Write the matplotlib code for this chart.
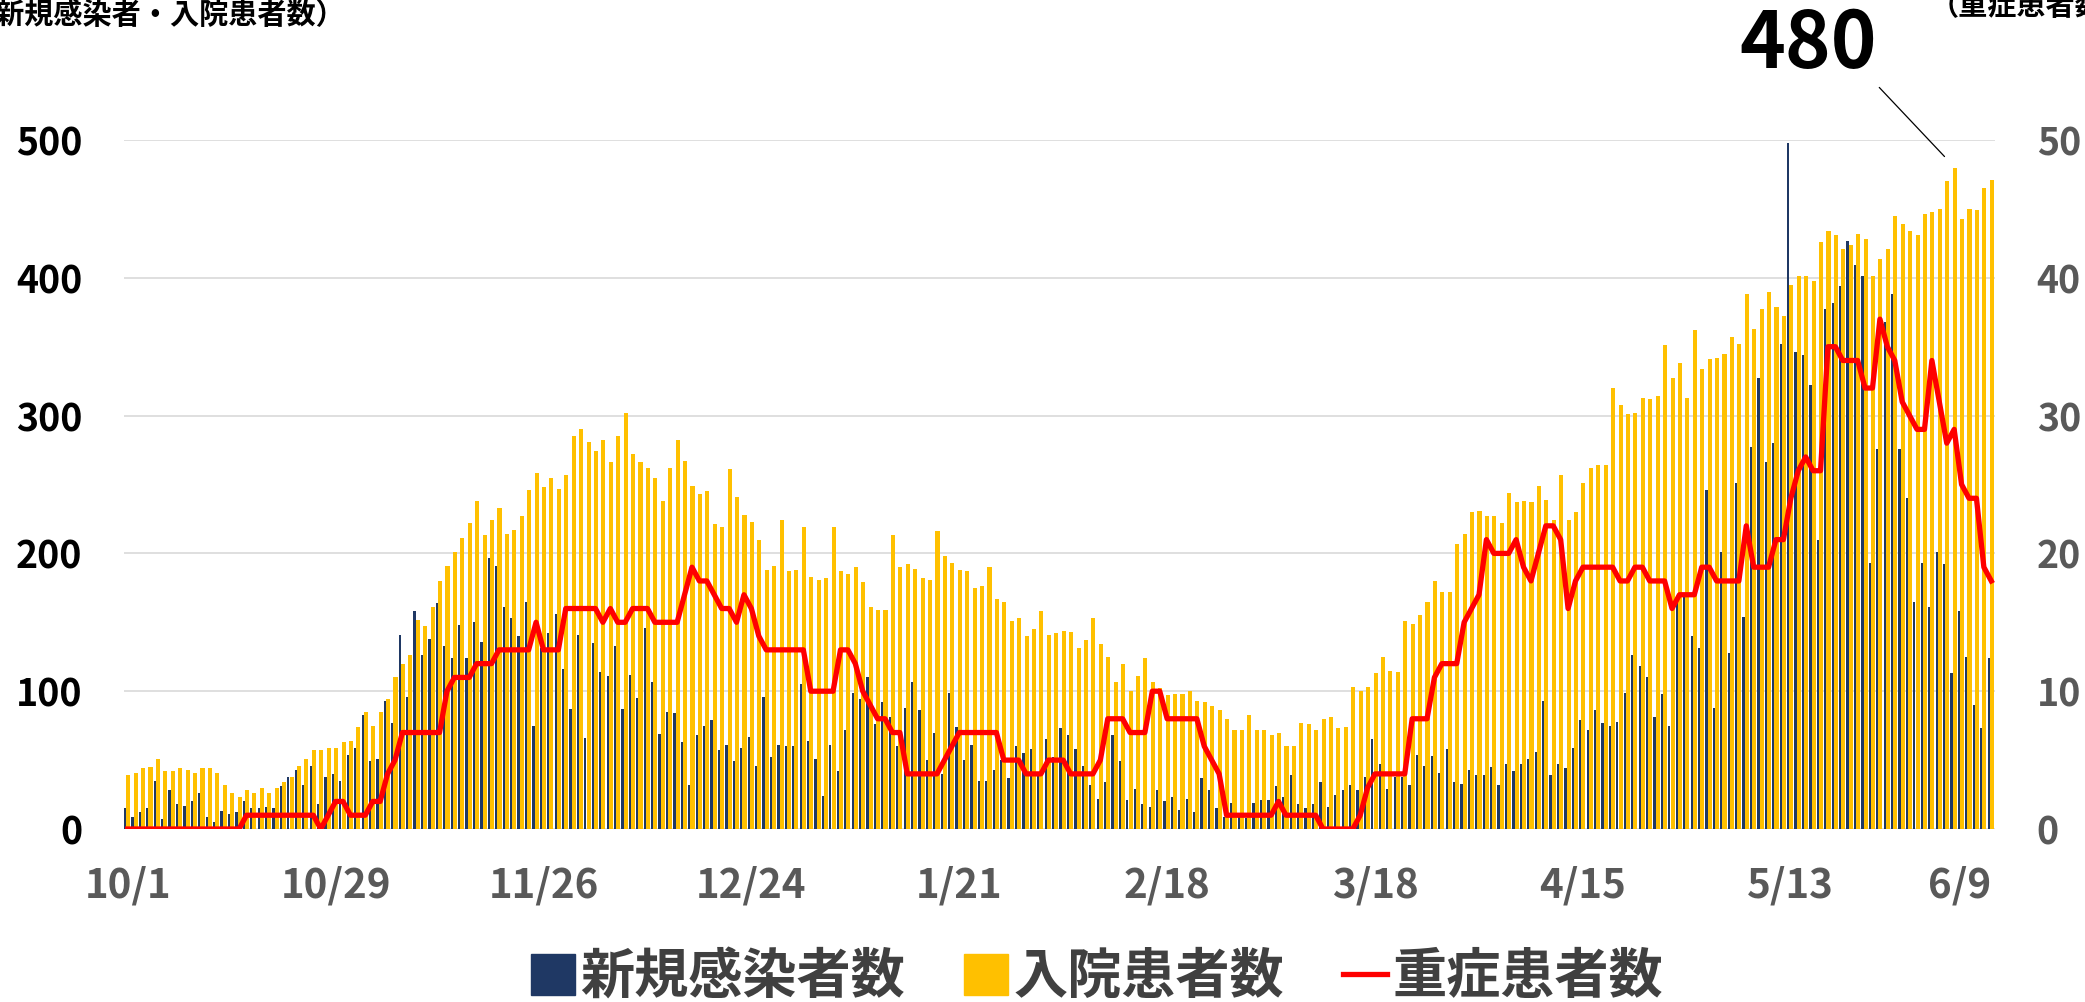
import numpy as np
import pandas as pd
import matplotlib
matplotlib.use('Agg')
import matplotlib.pyplot as plt
from matplotlib.patches import Patch
from matplotlib.lines import Line2D

# daily data 2020/10/1 - 2021/6/9
dates = pd.date_range('2020-10-01', '2021-06-09', freq='D')
tick_labels = ['10/1', '10/29', '11/26', '12/24', '1/21', '2/18', '3/18', '4/15', '5/13', '6/9']

new_cases = [
    15, 9, 12, 15, 35, 7, 28, 18, 17, 20, 26, 9, 5, 13, 11, 12, 20, 15, 15, 16, 15, 31,
    38, 43, 32, 46, 18, 38, 40, 35, 54, 59, 83, 49, 51, 93, 77, 141, 96, 158, 126, 138, 164, 133, 124,
    148, 124, 150, 136, 197, 191, 161, 153, 140, 165, 75, 131, 142, 156, 116, 87, 141, 66, 135, 114, 111, 133, 87,
    112, 95, 146, 107, 69, 85, 84, 63, 32, 68, 75, 79, 57, 61, 49, 59, 67, 46, 96, 52, 61, 60, 60,
    105, 64, 51, 24, 61, 42, 72, 99, 94, 110, 76, 92, 81, 60, 88, 107, 86, 50, 70, 40, 99, 74, 50,
    61, 35, 35, 43, 50, 37, 60, 55, 58, 41, 65, 52, 73, 68, 58, 46, 32, 22, 34, 68, 49, 21, 29,
    18, 16, 28, 20, 23, 14, 22, 12, 37, 28, 15, 9, 19, 9, 8, 19, 21, 21, 31, 23, 39, 18,
    15, 18, 34, 16, 25, 28, 32, 28, 38, 65, 47, 29, 38, 38, 32, 54, 46, 53, 41, 58, 34, 33, 43,
    39, 39, 45, 32, 47, 42, 47, 51, 56, 93, 39, 47, 44, 59, 79, 72, 86, 77, 75, 78, 99, 126, 118,
    110, 81, 98, 75, 164, 171, 140, 131, 246, 88, 201, 128, 251, 154, 277, 327, 266, 280, 352, 498, 346, 344, 322,
    210, 377, 382, 394, 427, 409, 401, 193, 276, 368, 388, 276, 240, 165, 193, 161, 201, 192, 113, 158, 125, 90, 73, 124,
]

hospitalized = [
    39, 41, 44, 45, 51, 42, 42, 44, 43, 41, 44, 44, 41, 32, 26, 23, 28, 26, 30, 26, 30, 34,
    38, 46, 51, 57, 57, 59, 59, 63, 64, 74, 85, 75, 85, 94, 110, 120, 126, 152, 147, 161, 180, 191, 201,
    211, 222, 238, 213, 224, 233, 214, 217, 227, 246, 258, 248, 255, 247, 257, 285, 290, 281, 274, 282, 266, 285, 302,
    272, 266, 262, 255, 238, 262, 282, 267, 249, 243, 245, 221, 219, 261, 241, 228, 223, 210, 188, 191, 224, 187, 188,
    219, 183, 181, 182, 219, 187, 185, 190, 179, 161, 159, 159, 213, 190, 192, 189, 182, 181, 216, 198, 193, 188, 187,
    175, 176, 190, 167, 165, 151, 153, 140, 145, 158, 141, 142, 144, 143, 131, 137, 153, 134, 125, 107, 120, 100, 111,
    124, 107, 102, 97, 98, 98, 100, 93, 92, 89, 86, 80, 72, 72, 83, 72, 72, 68, 70, 60, 60, 77,
    76, 72, 80, 81, 73, 74, 103, 100, 103, 113, 125, 115, 114, 151, 149, 155, 165, 180, 172, 172, 207, 214, 230,
    231, 227, 227, 222, 244, 237, 238, 237, 249, 239, 224, 257, 224, 230, 251, 262, 264, 264, 320, 308, 301, 302, 313,
    312, 314, 351, 327, 338, 313, 362, 334, 341, 342, 345, 357, 352, 388, 363, 377, 390, 379, 372, 395, 401, 401, 398,
    426, 434, 431, 421, 424, 432, 428, 401, 414, 421, 445, 439, 434, 431, 446, 448, 450, 470, 480, 443, 450, 449, 465, 471,
]

severe = [
    0, 0, 0, 0, 0, 0, 0, 0, 0, 0, 0, 0, 0, 0, 0, 0, 1, 1, 1, 1, 1, 1,
    1, 1, 1, 1, 0, 1, 2, 2, 1, 1, 1, 2, 2, 4, 5, 7, 7, 7, 7, 7, 7, 10, 11,
    11, 11, 12, 12, 12, 13, 13, 13, 13, 13, 15, 13, 13, 13, 16, 16, 16, 16, 16, 15, 16, 15, 15,
    16, 16, 16, 15, 15, 15, 15, 17, 19, 18, 18, 17, 16, 16, 15, 17, 16, 14, 13, 13, 13, 13, 13,
    13, 10, 10, 10, 10, 13, 13, 12, 10, 9, 8, 8, 7, 7, 4, 4, 4, 4, 4, 5, 6, 7, 7,
    7, 7, 7, 7, 5, 5, 5, 4, 4, 4, 5, 5, 5, 4, 4, 4, 4, 5, 8, 8, 8, 7, 7,
    7, 10, 10, 8, 8, 8, 8, 8, 6, 5, 4, 1, 1, 1, 1, 1, 1, 1, 2, 1, 1, 1,
    1, 1, 0, 0, 0, 0, 0, 1, 3, 4, 4, 4, 4, 4, 8, 8, 8, 11, 12, 12, 12, 15, 16,
    17, 21, 20, 20, 20, 21, 19, 18, 20, 22, 22, 21, 16, 18, 19, 19, 19, 19, 19, 18, 18, 19, 19,
    18, 18, 18, 16, 17, 17, 17, 19, 19, 18, 18, 18, 18, 22, 19, 19, 19, 21, 21, 24, 26, 27, 26,
    26, 35, 35, 34, 34, 34, 32, 32, 37, 35, 34, 31, 30, 29, 29, 34, 31, 28, 29, 25, 24, 24, 19, 18,
]

plt.rcParams['font.family'] = ['Noto Sans CJK JP', 'DejaVu Sans']

navy = '#1F3864'
yellow = '#FFC000'
red = '#FF0000'
gray = '#595959'

W, H = 2085, 1002
fig = plt.figure(figsize=(W / 100, H / 100), dpi=100)
ax = fig.add_axes([124 / W, 1 - 829 / H, (1995 - 124) / W, (829 - 140) / H])

x = np.arange(len(dates))
ax.bar(x - 0.36, new_cases, width=0.3, color=navy, zorder=2)
ax.bar(x + 0.07, hospitalized, width=0.55, color=yellow, zorder=2)
ax.set_xlim(-0.5, len(dates) - 0.5)
ax.set_ylim(0, 500)
ax.set_yticks(range(0, 501, 100))
ax.yaxis.grid(True, color='#D9D9D9', linewidth=1.2)
ax.set_axisbelow(True)
for s in ax.spines.values():
    s.set_visible(False)

day_labels = [f'{d.month}/{d.day}' for d in dates]
ax.set_xticks([day_labels.index(t) for t in tick_labels])
ax.set_xticklabels(tick_labels, fontsize=29, fontweight='bold', color=gray)
ax.get_xticklabels()[-1].set_ha('right')
ax.tick_params(axis='x', length=0, pad=26)
ax.tick_params(axis='y', length=0, pad=30)
for t in ax.get_yticklabels():
    t.set_fontsize(27)
    t.set_fontweight('bold')
    t.set_color('black')

ax2 = ax.twinx()
ax2.plot(x, severe, color=red, linewidth=3.8, solid_joinstyle='round', zorder=3)
ax2.set_ylim(0, 50)
ax2.set_yticks(range(0, 51, 10))
ax2.tick_params(axis='y', length=0, pad=30)
for t in ax2.get_yticklabels():
    t.set_fontsize(27)
    t.set_fontweight('bold')
    t.set_color(gray)
for s in ax2.spines.values():
    s.set_visible(False)

# peak annotation
peak_i = int(np.argmax(hospitalized))
peak = hospitalized[peak_i]
ax.annotate(str(peak), xy=(peak_i - 1.3, peak + 8), xytext=(peak_i - 19.7, 569),
            fontsize=56, fontweight='bold', ha='center', va='center',
            annotation_clip=False,
            arrowprops=dict(arrowstyle='-', color='black', lw=0.9, relpos=(1.0, 0.0),
                            shrinkA=0, shrinkB=0))

fig.text(345 / W, 1 - 15 / H, '（新規感染者・入院患者数）', fontsize=21, fontweight='bold',
         ha='right', va='center')
fig.text(1930 / W, 1 - 6 / H, '（重症患者数）', fontsize=21, fontweight='bold',
         ha='left', va='center')

handles = [Patch(color=navy), Patch(color=yellow), Line2D([], [], color=red, linewidth=3.8)]
leg = fig.legend(handles, ['新規感染者数', '入院患者数', '重症患者数'], loc='center',
                 bbox_to_anchor=(1097 / W, 24 / H), ncol=3, frameon=False,
                 prop={'size': 39, 'weight': 'bold'}, handlelength=0.8, handleheight=0.8,
                 handletextpad=0.1, columnspacing=1.1, borderpad=0)
for t in leg.get_texts():
    t.set_color('#404040')

fig.savefig('out.png', dpi=100)
